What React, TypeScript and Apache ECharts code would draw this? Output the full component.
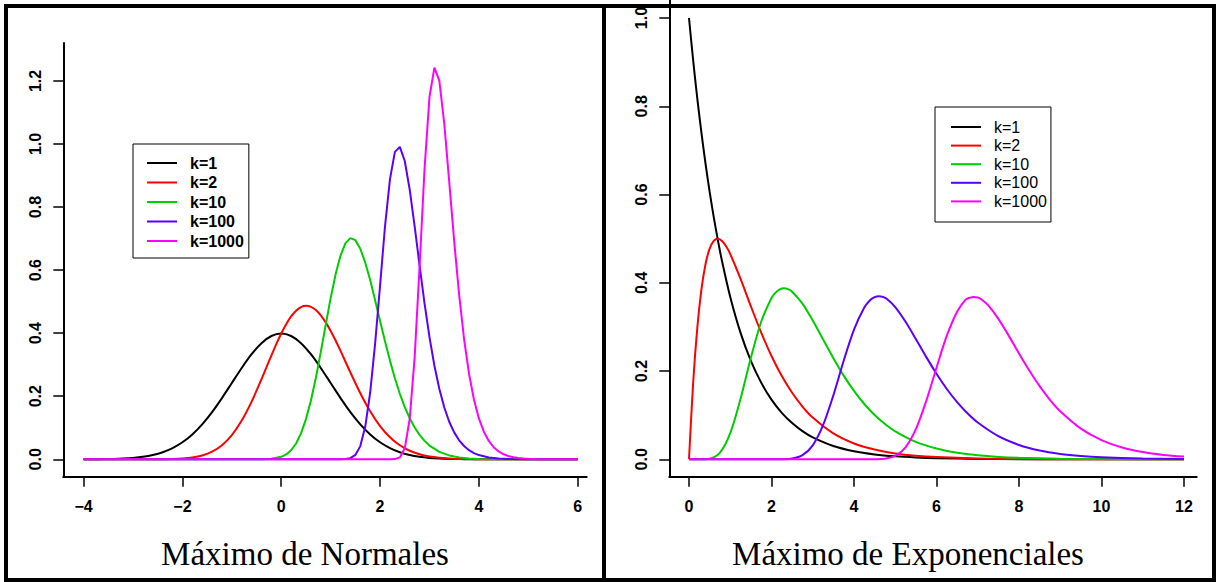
import React, { useEffect, useRef } from 'react';
import * as echarts from 'echarts';

// ---------- data ----------
const seriesNames = ['k=1', 'k=2', 'k=10', 'k=100', 'k=1000'];
const seriesColors = ['#000000', '#FF0000', '#00CD00', '#5A00FF', '#FF00FF'];

const normalTitle = 'Máximo de Normales';
const expTitle = 'Máximo de Exponenciales';

const normalXTicks = [-4, -2, 0, 2, 4, 6];
const normalYTicks = [0, 0.2, 0.4, 0.6, 0.8, 1.0, 1.2];
const expXTicks = [0, 2, 4, 6, 8, 10, 12];
const expYTicks = [0, 0.2, 0.4, 0.6, 0.8, 1.0];

const normK1 = [[-4, 0.0001], [-3.8, 0.0003], [-3.6, 0.0006], [-3.4, 0.0012], [-3.2, 0.0024], [-3, 0.0044], [-2.8, 0.0079], [-2.6, 0.0136], [-2.4, 0.0224], [-2.2, 0.0355], [-2, 0.054], [-1.8, 0.079], [-1.6, 0.1109], [-1.4, 0.1497], [-1.2, 0.1942], [-1, 0.242], [-0.8, 0.2897], [-0.6, 0.3332], [-0.4, 0.3683], [-0.2, 0.391], [0, 0.3989], [0.2, 0.391], [0.4, 0.3683], [0.6, 0.3332], [0.8, 0.2897], [1, 0.242], [1.2, 0.1942], [1.4, 0.1497], [1.6, 0.1109], [1.8, 0.079], [2, 0.054], [2.2, 0.0355], [2.4, 0.0224], [2.6, 0.0136], [2.8, 0.0079], [3, 0.0044], [3.2, 0.0024], [3.4, 0.0012], [3.6, 0.0006], [3.8, 0.0003], [4, 0.0001], [5, 0], [6, 0]];
const normK2 = [[-4, 0], [-3.4, 0], [-3, 0.00001], [-2.6, 0.0001], [-2.4, 0.0004], [-2.2, 0.001], [-2, 0.0025], [-1.8, 0.0057], [-1.6, 0.0122], [-1.4, 0.0242], [-1.2, 0.0447], [-1, 0.0768], [-0.8, 0.1228], [-0.6, 0.1828], [-0.4, 0.2538], [-0.3, 0.2915], [-0.2, 0.329], [-0.1, 0.3654], [0, 0.3989], [0.1, 0.4286], [0.2, 0.453], [0.3, 0.4713], [0.4, 0.4828], [0.5, 0.4868], [0.6, 0.4836], [0.7, 0.4734], [0.8, 0.4566], [0.9, 0.4342], [1, 0.4072], [1.1, 0.3767], [1.2, 0.3437], [1.4, 0.2752], [1.6, 0.2096], [1.8, 0.1523], [2, 0.1055], [2.2, 0.07], [2.4, 0.0444], [2.6, 0.0271], [2.8, 0.0158], [3, 0.0088], [3.2, 0.0048], [3.4, 0.0025], [3.6, 0.0012], [3.8, 0.0006], [4, 0.0003], [4.4, 0], [6, 0]];
const normK10 = [[-4, 0], [-0.8, 0], [-0.6, 0.00003], [-0.4, 0.0003], [-0.2, 0.0016], [0, 0.0078], [0.1, 0.0155], [0.2, 0.0287], [0.3, 0.0501], [0.4, 0.0822], [0.5, 0.1274], [0.6, 0.1859], [0.7, 0.2579], [0.8, 0.3398], [0.9, 0.4266], [1, 0.511], [1.1, 0.5866], [1.2, 0.6461], [1.3, 0.6856], [1.4, 0.7014], [1.5, 0.695], [1.6, 0.6678], [1.7, 0.6236], [1.8, 0.5685], [1.9, 0.5047], [2, 0.4387], [2.1, 0.3741], [2.2, 0.313], [2.3, 0.2571], [2.4, 0.2079], [2.5, 0.1655], [2.6, 0.1302], [2.7, 0.101], [2.8, 0.0774], [2.9, 0.0585], [3, 0.0435], [3.2, 0.0237], [3.4, 0.0123], [3.6, 0.0061], [3.8, 0.0029], [4, 0.0013], [4.4, 0.0002], [4.8, 0], [6, 0]];
const normK100 = [[-4, 0], [1.2, 0], [1.3, 0.0007], [1.4, 0.0036], [1.5, 0.0138], [1.6, 0.0418], [1.7, 0.103], [1.8, 0.2118], [1.9, 0.3667], [2, 0.551], [2.1, 0.739], [2.2, 0.888], [2.3, 0.975], [2.4, 0.991], [2.5, 0.946], [2.6, 0.855], [2.7, 0.7387], [2.8, 0.6145], [2.9, 0.4943], [3, 0.3877], [3.1, 0.2968], [3.2, 0.2227], [3.3, 0.1643], [3.4, 0.1191], [3.5, 0.0853], [3.6, 0.0602], [3.7, 0.0421], [3.8, 0.029], [3.9, 0.0198], [4, 0.0134], [4.2, 0.0059], [4.4, 0.0025], [4.6, 0.001], [5, 0.0001], [6, 0]];
const normK1000 = [[-4, 0], [2.2, 0], [2.3, 0.0006], [2.4, 0.006], [2.5, 0.0347], [2.6, 0.1277], [2.7, 0.3233], [2.8, 0.6122], [2.9, 0.9205], [3, 1.149], [3.1, 1.242], [3.2, 1.2], [3.3, 1.0634], [3.4, 0.8798], [3.5, 0.6917], [3.6, 0.5222], [3.7, 0.3815], [3.8, 0.2717], [3.9, 0.1897], [4, 0.1296], [4.1, 0.0875], [4.2, 0.0581], [4.3, 0.0382], [4.4, 0.0248], [4.5, 0.0159], [4.6, 0.0101], [4.7, 0.0064], [4.8, 0.004], [4.9, 0.0024], [5, 0.0015], [5.2, 0.0005], [5.5, 0.0001], [6, 0]];

const expK1 = [[0, 1], [0.1, 0.9048], [0.2, 0.8187], [0.3, 0.7408], [0.4, 0.6703], [0.5, 0.6065], [0.6, 0.5488], [0.7, 0.4966], [0.8, 0.4493], [1, 0.3679], [1.25, 0.2865], [1.5, 0.2231], [1.75, 0.1738], [2, 0.1353], [2.25, 0.1054], [2.5, 0.0821], [2.75, 0.0639], [3, 0.0498], [3.5, 0.0302], [4, 0.0183], [4.5, 0.0111], [5, 0.0067], [5.5, 0.0041], [6, 0.0025], [7, 0.0009], [8, 0.0003], [9, 0.0001], [10, 0], [12, 0]];
const expK2 = [[0, 0], [0.1, 0.1723], [0.2, 0.2969], [0.3, 0.384], [0.4, 0.442], [0.5, 0.4773], [0.6, 0.4952], [0.7, 0.5], [0.8, 0.4949], [0.9, 0.4826], [1, 0.4651], [1.25, 0.4088], [1.5, 0.3467], [1.75, 0.2872], [2, 0.234], [2.25, 0.1886], [2.5, 0.1507], [2.75, 0.1196], [3, 0.0946], [3.5, 0.0586], [4, 0.0359], [4.5, 0.0221], [5, 0.0134], [5.5, 0.0081], [6, 0.005], [7, 0.0018], [8, 0.0007], [9, 0.0002], [10, 0.0001], [12, 0]];
const expK10 = [[0, 0], [0.25, 0], [0.5, 0.0014], [0.75, 0.015], [1, 0.0593], [1.25, 0.1372], [1.5, 0.2301], [1.75, 0.3118], [2, 0.3656], [2.1, 0.3778], [2.2, 0.385], [2.3, 0.3875], [2.4, 0.3855], [2.5, 0.3798], [2.75, 0.3527], [3, 0.3144], [3.25, 0.2718], [3.5, 0.2292], [3.75, 0.1897], [4, 0.155], [4.25, 0.1253], [4.5, 0.1004], [4.75, 0.08], [5, 0.0634], [5.5, 0.0394], [6, 0.0243], [6.5, 0.0148], [7, 0.0091], [7.5, 0.0055], [8, 0.0034], [9, 0.0012], [10, 0.0005], [11, 0.0002], [12, 0.0001]];
const expK100 = [[0, 0], [2, 0], [2.25, 0.0002], [2.5, 0.0017], [2.75, 0.0093], [3, 0.0317], [3.25, 0.0772], [3.5, 0.145], [3.75, 0.2233], [4, 0.2939], [4.25, 0.3441], [4.4, 0.3614], [4.5, 0.3676], [4.6, 0.3697], [4.7, 0.3681], [4.8, 0.3632], [5, 0.345], [5.25, 0.3117], [5.5, 0.2725], [5.75, 0.2321], [6, 0.1939], [6.25, 0.1594], [6.5, 0.1295], [6.75, 0.1043], [7, 0.0833], [7.5, 0.0524], [8, 0.0324], [8.5, 0.0199], [9, 0.0122], [9.5, 0.0074], [10, 0.0045], [11, 0.0017], [12, 0.0006]];
const expK1000 = [[0, 0], [4.25, 0], [4.5, 0.0002], [4.75, 0.0015], [5, 0.0079], [5.25, 0.0273], [5.5, 0.0683], [5.75, 0.1317], [6, 0.2076], [6.25, 0.2801], [6.5, 0.3344], [6.7, 0.3614], [6.8, 0.3659], [6.9, 0.368], [7, 0.3666], [7.1, 0.3617], [7.25, 0.3492], [7.5, 0.3182], [7.75, 0.2803], [8, 0.2397], [8.25, 0.2011], [8.5, 0.1657], [8.75, 0.1349], [9, 0.1088], [9.5, 0.0695], [10, 0.0434], [10.5, 0.0268], [11, 0.0164], [11.5, 0.01], [12, 0.0061]];

const normalData = [normK1, normK2, normK10, normK100, normK1000];
const expData = [expK1, expK2, expK10, expK100, expK1000];

// ---------- styling ----------
const SANS = 'Liberation Sans, Arial, sans-serif';
const SERIF = 'Liberation Serif, Times New Roman, serif';

function makeXAxis(gridIndex: number, min: number, max: number, ticks: number[]) {
  return {
    type: 'value',
    gridIndex,
    min,
    max,
    axisLine: { show: true, onZero: false, lineStyle: { color: '#000', width: 2 } },
    axisTick: { show: true, length: 10, customValues: ticks, lineStyle: { color: '#000', width: 1.5 } },
    axisLabel: {
      customValues: ticks,
      margin: 22,
      formatter: (v: number) => String(v).replace('-', '\u2212'),
      fontFamily: SANS,
      fontSize: 16,
      fontWeight: 'bold',
      color: '#000',
    },
    splitLine: { show: false },
  };
}

function makeYAxis(gridIndex: number, min: number, max: number, ticks: number[]) {
  return {
    type: 'value',
    gridIndex,
    min,
    max,
    axisLine: { show: true, onZero: false, lineStyle: { color: '#000', width: 2 } },
    axisTick: { show: true, length: 10, customValues: ticks, lineStyle: { color: '#000', width: 1.5 } },
    axisLabel: {
      customValues: ticks,
      margin: 20,
      rotate: 90,
      formatter: (v: number) => v.toFixed(1),
      fontFamily: SANS,
      fontSize: 16,
      fontWeight: 'bold',
      color: '#000',
    },
    splitLine: { show: false },
  };
}

function makeLegend(left: number, top: number, bold: boolean, gap: number, padding: number[]) {
  return {
    data: seriesNames,
    orient: 'vertical',
    left,
    top,
    icon: 'rect',
    itemWidth: 30,
    itemHeight: 2,
    itemGap: gap,
    padding,
    borderColor: '#000',
    borderWidth: 1,
    backgroundColor: '#fff',
    selectedMode: false,
    textStyle: {
      fontFamily: SANS,
      fontSize: 16,
      fontWeight: bold ? 'bold' : 'normal',
      color: '#000',
      lineHeight: 16,
      padding: [0, 0, 0, 8],
    },
  };
}

export default function App() {
  const ref = useRef<HTMLDivElement>(null);

  useEffect(() => {
    if (!ref.current) return;
    const chart = echarts.init(ref.current, undefined, { renderer: 'svg' });

    const series: any[] = [];
    normalData.forEach((d, i) => {
      series.push({
        type: 'line',
        name: seriesNames[i],
        xAxisIndex: 0,
        yAxisIndex: 0,
        data: d,
        symbol: 'none',
        showSymbol: false,
        smooth: i < 2 ? 0.3 : false,
        lineStyle: { color: seriesColors[i], width: 2 },
        itemStyle: { color: seriesColors[i] },
        silent: true,
      });
    });
    expData.forEach((d, i) => {
      series.push({
        type: 'line',
        name: seriesNames[i],
        xAxisIndex: 1,
        yAxisIndex: 1,
        data: d,
        symbol: 'none',
        showSymbol: false,
        smooth: 0.3,
        lineStyle: { color: seriesColors[i], width: 2 },
        itemStyle: { color: seriesColors[i] },
        silent: true,
      });
    });

    chart.setOption({
      animation: false,
      backgroundColor: '#fff',
      title: [
        { text: normalTitle, left: 305, top: 537, textAlign: 'center', padding: 0,
          textStyle: { fontFamily: SERIF, fontSize: 33, fontWeight: 'normal', color: '#000' } },
        { text: expTitle, left: 908, top: 537, textAlign: 'center', padding: 0,
          textStyle: { fontFamily: SERIF, fontSize: 33, fontWeight: 'normal', color: '#000' } },
      ],
      grid: [
        { left: 63.3, top: 43, width: 523.4, height: 433.7, containLabel: false },
        { left: 669.3, top: 0, width: 527.4, height: 476.7, containLabel: false },
      ],
      xAxis: [
        makeXAxis(0, -4.411, 6.182, normalXTicks),
        makeXAxis(1, -0.4776, 12.308, expXTicks),
      ],
      yAxis: [
        makeYAxis(0, -0.0552, 1.3203, normalYTicks),
        makeYAxis(1, -0.0394, 1.0408, expYTicks),
      ],
      legend: [
        makeLegend(133, 144, true, 3.5, [11, 5, 9, 14]),
        makeLegend(935, 107, false, 2.6, [12, 4, 12.6, 16]),
      ],
      graphic: [
        { type: 'rect', z: 100, silent: true, shape: { x: 6, y: 6, width: 1208, height: 574 },
          style: { fill: 'none', stroke: '#000', lineWidth: 4 } },
        { type: 'line', z: 100, silent: true, shape: { x1: 604, y1: 4, x2: 604, y2: 582 },
          style: { stroke: '#000', lineWidth: 4 } },
      ],
      series,
    });

    return () => chart.dispose();
  }, []);

  return (
    <div
      ref={ref}
      style={{ position: 'fixed', left: 0, top: 0, width: 1217, height: 582, background: '#fff' }}
    />
  );
}
